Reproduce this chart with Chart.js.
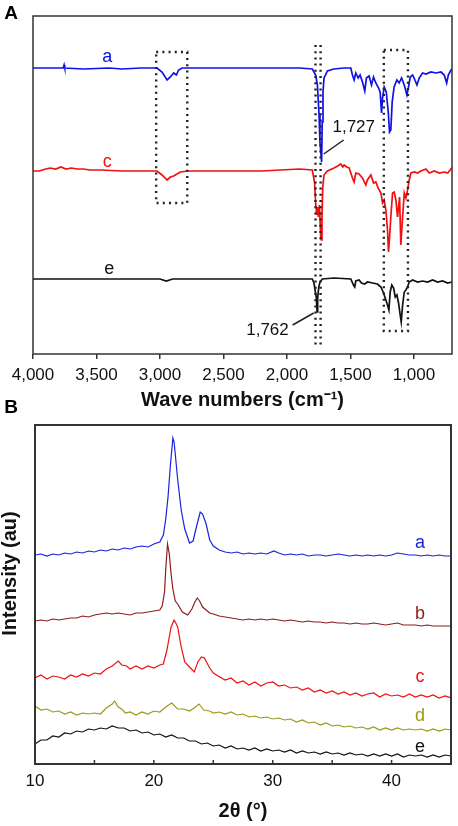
<!DOCTYPE html>
<html>
<head>
<meta charset="utf-8">
<script src="https://cdn.jsdelivr.net/npm/chart.js@4.4.1/dist/chart.umd.min.js"></script>
<style>
body { margin: 0; background: #fff; }
#wrap { position: relative; width: 458px; height: 826px; overflow: hidden; }
canvas { position: absolute; left: 0; }
#ftir { top: 0; }
#xrd { top: 395px; }
</style>
</head>
<body>
<div id="wrap">
<canvas id="ftir" width="458" height="412"></canvas>
<canvas id="xrd" width="458" height="431"></canvas>
</div>
<script>
// ---- Panel A: FTIR spectra, [wave number, transmittance (offset, au)]
const ftirTicks = [4000, 3500, 3000, 2500, 2000, 1500, 1000];
const ftirA = [[4000,286],[3900,286],[3800,286],[3762,286],[3755,289],[3750,286],[3600,285],[3400,286],[3300,285],[3150,286],[3023,286],[2984,282],[2944,274],[2918,277],[2892,281],[2871,279],[2853,284],[2826,286],[2600,286],[2400,286],[2200,286],[2000,286],[1900,286],[1800,285],[1774,279],[1760,269],[1747,239],[1740,212],[1727,192],[1722,232],[1716,262],[1708,276],[1681,283],[1631,285],[1550,286],[1497,286],[1484,279],[1471,274],[1458,281],[1439,276],[1424,279],[1405,272],[1387,263],[1374,276],[1353,278],[1334,269],[1318,277],[1300,271],[1282,267],[1266,262],[1255,241],[1247,256],[1234,267],[1218,262],[1202,242],[1192,222],[1182,224],[1171,252],[1156,267],[1134,274],[1116,271],[1097,276],[1076,269],[1055,259],[1044,266],[1029,277],[1010,279],[992,274],[976,269],[958,276],[932,281],[905,280],[866,282],[826,281],[787,282],[761,279],[742,271],[729,279],[708,284],[700,285]];
const ftirC = [[4000,183],[3950,183],[3900,185],[3866,186],[3820,185],[3780,187],[3740,185],[3700,186],[3650,185],[3605,185],[3550,184],[3471,184],[3300,183],[3210,183],[3050,183],[3023,183],[2984,179],[2944,174],[2918,177],[2892,178],[2840,182],[2780,183],[2500,183],[2200,183],[1900,185],[1800,184],[1782,171],[1774,151],[1766,139],[1760,147],[1752,137],[1744,149],[1734,117],[1729,114],[1724,137],[1718,167],[1708,179],[1681,183],[1629,186],[1600,188],[1576,190],[1560,187],[1550,189],[1530,187],[1510,186],[1484,176],[1471,172],[1458,181],[1432,180],[1405,176],[1379,169],[1366,174],[1339,179],[1318,171],[1300,172],[1282,166],[1260,161],[1247,151],[1234,154],[1221,144],[1208,124],[1200,102],[1190,120],[1182,137],[1168,161],[1155,162],[1142,154],[1129,137],[1113,157],[1103,109],[1089,137],[1076,161],[1063,156],[1050,164],[1037,174],[1023,181],[997,182],[971,181],[945,183],[905,185],[879,181],[839,183],[800,181],[761,182],[734,181],[702,186],[700,186]];
const ftirE = [[4000,75],[3500,75],[3000,75],[2950,73],[2900,75],[2500,75],[2000,75],[1892,75],[1800,75],[1787,71],[1776,62],[1768,56],[1763,42],[1758,56],[1750,66],[1740,72],[1721,75],[1629,76],[1497,75],[1476,69],[1466,67],[1458,73],[1432,74],[1413,71],[1387,70],[1366,72],[1326,71],[1287,70],[1260,67],[1239,61],[1221,54],[1208,49],[1197,44],[1187,62],[1174,69],[1160,66],[1147,57],[1134,59],[1121,51],[1108,39],[1100,32],[1089,49],[1076,62],[1063,64],[1050,67],[1037,72],[1010,74],[971,72],[932,73],[892,72],[853,74],[813,72],[774,73],[734,71],[702,72],[700,72]];

// dotted marker boxes [wave from, wave to, top, bottom] and band lines [wave, top, bottom]
const ftirBoxes = [[3030, 2785, 302, 151], [1237, 1047, 304, 23]];
const ftirBandLines = [[1775, 309, 7], [1735, 309, 7]];
const ftirSeriesLabels = [['a', 3416, 297, '#1010e0'], ['c', 3416, 192, '#ee1111'], ['e', 3400, 85, '#111']];
// peak callouts [text, label wave, label y, line from (wave,y), line to (wave,y)]
const ftirCallouts = [['1,727', 1474, 227, 1553, 214, 1710, 200], ['1,762', 2153, 24, 1955, 29, 1789, 41]];

// ---- Panel B: XRD patterns, [2theta, intensity (offset, au)]
const xrdTicks = [10, 15, 20, 25, 30, 35, 40, 45];
const xrdA = [[10,209],[10.5,210],[11,208],[11.5,210],[12,209],[12.5,211],[13,210],[13.5,212],[14,211],[14.5,213],[15,212],[15.5,214],[16,213],[16.5,215],[17,214],[17.5,216],[18,215],[18.5,217],[19,218],[19.5,217],[20,220],[20.5,222],[20.8,229],[21.0,245],[21.2,268],[21.4,300],[21.6,326],[21.7,322],[21.8,310],[22.0,285],[22.3,254],[22.6,235],[23.0,221],[23.3,223],[23.6,238],[23.9,252],[24.1,250],[24.4,240],[24.7,224],[25.0,218],[25.5,214],[26,212],[26.5,211],[27,212],[27.5,210],[28,211],[28.5,210],[29,211],[29.5,210],[30.1,213],[30.5,211],[31,209],[31.5,210],[32,209],[32.5,210],[33,208],[33.5,209],[34,209],[34.5,208],[35,209],[35.5,210],[36,209],[36.5,208],[37,209],[37.5,208],[38,209],[38.5,208],[39,209],[39.5,208],[40,209],[40.5,211],[41,210],[41.5,209],[42,209],[42.5,208],[43,209],[43.5,208],[44,209],[44.5,208],[45,208]];
const xrdB = [[10,143],[10.5,144],[11,143],[11.5,145],[12,144],[12.5,145],[13,146],[13.5,146],[14,148],[14.5,147],[15,149],[15.5,150],[16,151],[16.5,150],[17,151],[17.5,150],[18,149],[18.5,151],[19,151],[19.5,152],[20,153],[20.5,154],[20.7,158],[20.9,172],[21.0,195],[21.15,220],[21.3,210],[21.45,190],[21.6,175],[21.8,163],[22.0,160],[22.4,152],[22.85,149],[23.2,155],[23.45,162],[23.65,166],[23.85,163],[24.1,157],[24.7,151],[25.0,150],[25.5,148],[26,147],[26.5,146],[27,145],[27.5,144],[28,145],[28.5,144],[29,145],[29.5,144],[30,145],[30.5,144],[31,143],[31.5,144],[32,143],[32.5,142],[33,143],[33.5,142],[34,142],[34.5,141],[35,142],[35.5,141],[36,141],[36.5,140],[37,141],[37.5,140],[38,140],[38.5,141],[39,140],[39.5,139],[40,140],[40.5,141],[41,139],[41.5,139],[42,139],[42.5,138],[43,139],[43.5,138],[44,138],[44.5,138],[45,138]];
const xrdC = [[10,86],[10.5,89],[11,85],[11.5,88],[12,87],[12.5,85],[13,89],[13.5,87],[14,90],[14.5,88],[15,91],[15.5,90],[16,95],[16.5,98],[17,103],[17.3,99],[17.7,98],[18,95],[18.5,98],[19,95],[19.5,98],[20,96],[20.5,99],[20.8,100],[21.1,114],[21.45,137],[21.7,144],[21.85,141],[22.0,137],[22.3,117],[22.6,102],[23.0,97],[23.4,92],[23.7,102],[24.0,107],[24.25,106],[24.7,96],[25.0,91],[25.4,88],[26,84],[26.5,86],[27,81],[27.5,83],[28,79],[28.5,82],[29,78],[29.5,81],[30,82],[30.5,78],[31,79],[31.5,76],[32,77],[32.5,74],[33,76],[33.5,72],[34,74],[34.5,71],[35,73],[35.5,70],[36,72],[36.5,69],[37,71],[37.5,68],[38,70],[38.5,71],[39,67],[39.5,70],[40,68],[40.5,69],[41,67],[41.5,70],[42,67],[42.5,69],[43,67],[43.5,69],[44,66],[44.5,68],[45,66]];
const xrdD = [[10,58],[10.5,54],[11,55],[11.5,52],[12,53],[12.5,50],[13,52],[13.5,49],[14,51],[14.5,50],[15,51],[15.5,50],[16,56],[16.5,60],[16.7,63],[17,57],[17.3,55],[17.6,51],[18,52],[18.5,49],[19,52],[19.5,50],[20,53],[20.5,52],[21,57],[21.5,61],[22,55],[22.5,55],[23,53],[23.5,57],[23.8,60],[24.2,54],[24.7,53],[25,51],[25.5,52],[26,50],[26.5,52],[27,49],[27.5,50],[28,47],[28.5,48],[29,46],[29.5,47],[30,45],[30.5,46],[31,44],[31.5,45],[32,42],[32.5,44],[33,41],[33.5,42],[34,39],[34.5,41],[35,38],[35.5,39],[36,37],[36.5,38],[37,36],[37.5,37],[38,35],[38.5,37],[39,34],[39.5,36],[40,34],[40.5,36],[41,34],[41.5,35],[42,34],[42.5,35],[43,33],[43.5,35],[44,33],[44.5,35],[45,34]];
const xrdE = [[10,20],[10.5,24],[11,24],[11.5,28],[12,27],[12.5,31],[13,30],[13.5,33],[14,32],[14.5,35],[15,34],[15.5,36],[16,35],[16.5,38],[17,36],[17.5,36],[18,33],[18.5,34],[19,31],[19.5,32],[20,29],[20.5,30],[21,27],[21.5,29],[22,26],[22.5,26],[23,23],[23.5,23],[24,20],[24.5,21],[25,18],[25.5,19],[26,16],[26.5,18],[27,15],[27.5,16],[28,14],[28.5,16],[29,13],[29.5,15],[30,13],[30.5,14],[31,12],[31.5,14],[32,11],[32.5,13],[33,11],[33.5,12],[34,10],[34.5,12],[35,10],[35.5,11],[36,9],[36.5,11],[37,9],[37.5,10],[38,8],[38.5,10],[39,8],[39.5,10],[40,8],[40.5,10],[41,7],[41.5,9],[42,8],[42.5,9],[43,7],[43.5,9],[44,7],[44.5,9],[45,8]];
const xrdSeriesLabels = [['a', 42.4, 221, '#1a22dd'], ['b', 42.4, 150, '#8e1c1c'], ['c', 42.4, 87, '#ee1111'], ['d', 42.4, 48, '#9a9a18'], ['e', 42.4, 17, '#111']];

Chart.defaults.font.family = '"Liberation Sans", Arial, sans-serif';
Chart.defaults.color = '#111';

const toXY = arr => arr.map(p => ({ x: p[0], y: p[1] }));

function drawFrame(chart, width) {
    const { ctx, chartArea: a } = chart;
    ctx.save();
    ctx.strokeStyle = '#333';
    ctx.lineWidth = width;
    ctx.strokeRect(a.left, a.top, a.right - a.left, a.bottom - a.top);
    ctx.restore();
}

function drawText(ctx, text, x, y, font, color) {
    ctx.save();
    ctx.font = font;
    ctx.fillStyle = color;
    ctx.textAlign = 'center';
    ctx.textBaseline = 'middle';
    ctx.fillText(text, x, y);
    ctx.restore();
}

const ftirDecor = {
    id: 'ftirDecor',
    afterDatasetsDraw(chart) {
        const { ctx, scales: { x, y } } = chart;
        drawFrame(chart, 1.5);
        ctx.save();
        ctx.strokeStyle = '#222';
        ctx.lineWidth = 2.4;
        ctx.setLineDash([2, 4.2]);
        ftirBoxes.forEach(b => {
            const x0 = x.getPixelForValue(b[0]), x1 = x.getPixelForValue(b[1]);
            const y0 = y.getPixelForValue(b[2]), y1 = y.getPixelForValue(b[3]);
            ctx.strokeRect(x0, y0, x1 - x0, y1 - y0);
        });
        ftirBandLines.forEach(l => {
            const px = x.getPixelForValue(l[0]);
            ctx.beginPath();
            ctx.moveTo(px, y.getPixelForValue(l[1]));
            ctx.lineTo(px, y.getPixelForValue(l[2]));
            ctx.stroke();
        });
        ctx.setLineDash([]);
        ctx.lineWidth = 1.5;
        ftirCallouts.forEach(c => {
            ctx.beginPath();
            ctx.moveTo(x.getPixelForValue(c[3]), y.getPixelForValue(c[4]));
            ctx.lineTo(x.getPixelForValue(c[5]), y.getPixelForValue(c[6]));
            ctx.stroke();
            drawText(ctx, c[0], x.getPixelForValue(c[1]), y.getPixelForValue(c[2]), '17px "Liberation Sans", Arial, sans-serif', '#111');
        });
        ctx.restore();
        ftirSeriesLabels.forEach(l => {
            drawText(ctx, l[0], x.getPixelForValue(l[1]), y.getPixelForValue(l[2]), '18px "Liberation Sans", Arial, sans-serif', l[3]);
        });
        drawText(ctx, 'A', 11, 14, 'bold 19px "Liberation Sans", Arial, sans-serif', '#000');
    }
};

const xrdDecor = {
    id: 'xrdDecor',
    afterDatasetsDraw(chart) {
        const { ctx, chartArea: a, scales: { x, y } } = chart;
        drawFrame(chart, 2);
        ctx.save();
        ctx.strokeStyle = '#333';
        ctx.lineWidth = 1.5;
        x.ticks.forEach(t => {
            const px = x.getPixelForValue(t.value);
            ctx.beginPath();
            ctx.moveTo(px, a.bottom);
            ctx.lineTo(px, a.bottom - 4);
            ctx.stroke();
        });
        ctx.restore();
        xrdSeriesLabels.forEach(l => {
            drawText(ctx, l[0], x.getPixelForValue(l[1]), y.getPixelForValue(l[2]), '18px "Liberation Sans", Arial, sans-serif', l[3]);
        });
        ctx.save();
        ctx.translate(10, (a.top + a.bottom) / 2 - 21);
        ctx.rotate(-Math.PI / 2);
        drawText(ctx, 'Intensity (au)', 0, 0, 'bold 20px "Liberation Sans", Arial, sans-serif', '#111');
        ctx.restore();
        drawText(ctx, 'B', 11, 13, 'bold 19px "Liberation Sans", Arial, sans-serif', '#000');
    }
};

function lineSet(points, color, width) {
    return { data: toXY(points), borderColor: color, borderWidth: width, pointRadius: 0, tension: 0, fill: false };
}

new Chart(document.getElementById('ftir'), {
    type: 'line',
    data: {
        datasets: [
            lineSet(ftirA, '#1010e8', 1.7),
            lineSet(ftirC, '#f01010', 1.7),
            lineSet(ftirE, '#111', 1.7)
        ]
    },
    options: {
        responsive: false,
        animation: false,
        devicePixelRatio: 1,
        layout: { padding: { left: 33, right: 6, top: 16, bottom: 0 } },
        plugins: { legend: { display: false }, tooltip: { enabled: false } },
        scales: {
            x: {
                type: 'linear',
                reverse: true,
                min: 700,
                max: 4000,
                afterBuildTicks: s => { s.ticks = ftirTicks.map(v => ({ value: v })); },
                afterFit: s => { s.height = 58; },
                ticks: {
                    autoSkip: false,
                    maxRotation: 0,
                    padding: 6,
                    color: '#111',
                    font: { size: 17 },
                    callback: v => v.toLocaleString('en-US')
                },
                grid: { display: true, drawOnChartArea: false, drawTicks: true, tickLength: 5, color: '#333', lineWidth: 1.5 },
                border: { display: false },
                title: {
                    display: true,
                    text: 'Wave numbers (cm\u207B\u00B9)',
                    color: '#111',
                    font: { size: 20, weight: 'bold' },
                    padding: { top: 0, bottom: 0 }
                }
            },
            y: { display: false, min: 0, max: 338 }
        }
    },
    plugins: [ftirDecor]
});

new Chart(document.getElementById('xrd'), {
    type: 'line',
    data: {
        datasets: [
            lineSet(xrdA, '#1a22dd', 1.2),
            lineSet(xrdB, '#8e1c1c', 1.2),
            lineSet(xrdC, '#f01010', 1.2),
            lineSet(xrdD, '#9a9a18', 1.2),
            lineSet(xrdE, '#111', 1.2)
        ]
    },
    options: {
        responsive: false,
        animation: false,
        devicePixelRatio: 1,
        layout: { padding: { left: 35, right: 5, top: 30, bottom: 0 } },
        plugins: { legend: { display: false }, tooltip: { enabled: false } },
        scales: {
            x: {
                type: 'linear',
                min: 10,
                max: 45,
                afterBuildTicks: s => { s.ticks = xrdTicks.map(v => ({ value: v })); },
                afterFit: s => { s.height = 62; },
                ticks: {
                    autoSkip: false,
                    maxRotation: 0,
                    padding: 7,
                    color: '#111',
                    font: { size: 17 },
                    callback: v => (v % 10 === 0 ? String(v) : '')
                },
                grid: { display: false, drawTicks: false },
                border: { display: false },
                title: {
                    display: true,
                    text: '2\u03B8 (\u00B0)',
                    color: '#111',
                    font: { size: 20, weight: 'bold' },
                    padding: { top: 0, bottom: 3 }
                }
            },
            y: { display: false, min: 0, max: 339 }
        }
    },
    plugins: [xrdDecor]
});
</script>
</body>
</html>
